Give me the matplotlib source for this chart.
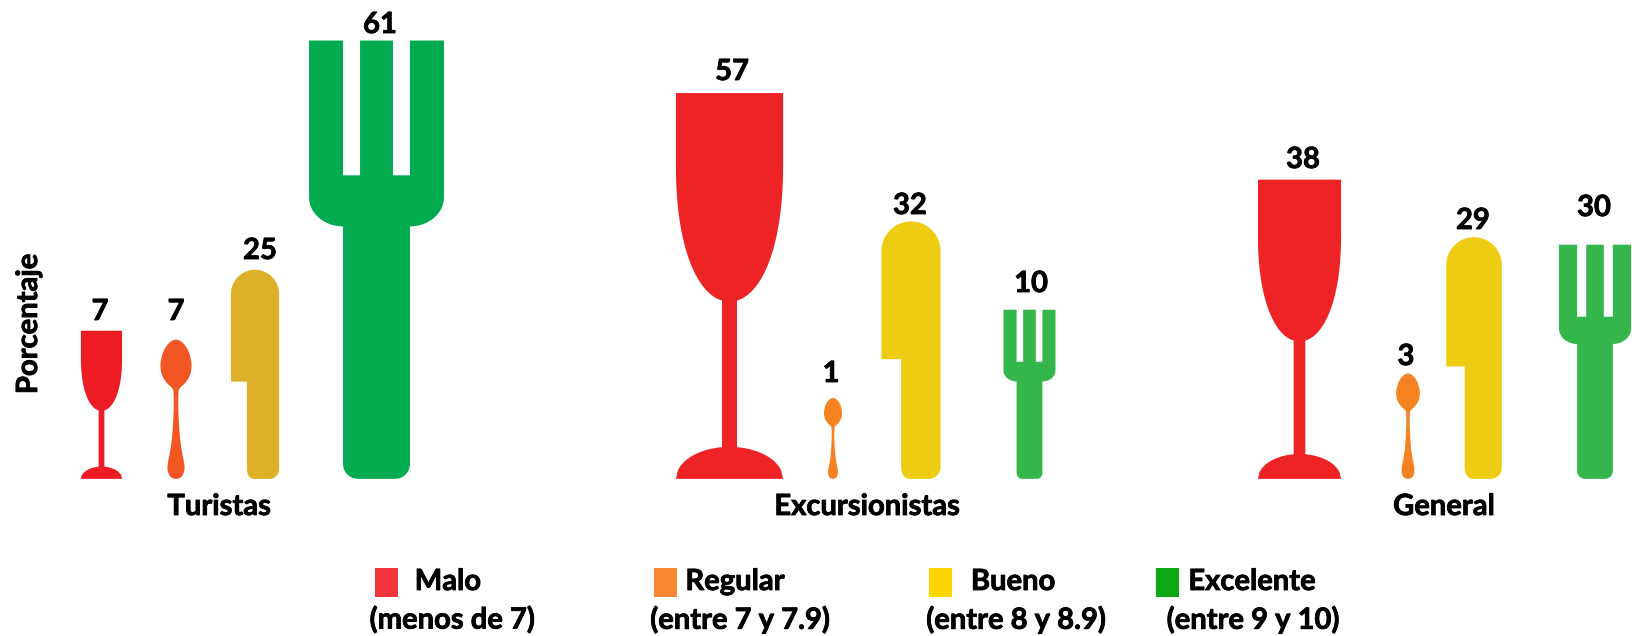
import numpy as np
import matplotlib
matplotlib.use("Agg")
import matplotlib.pyplot as plt
import matplotlib.patheffects as pe

# ---------- data ----------
groups = ["Turistas", "Excursionistas", "General"]
categories = ["Malo", "Regular", "Bueno", "Excelente"]
ranges = ["(menos de 7)", "(entre 7 y 7.9)", "(entre 8 y 8.9)", "(entre 9 y 10)"]
turistas = [7, 7, 25, 61]
excursionistas = [57, 1, 32, 10]
general = [38, 3, 29, 30]
series = [turistas, excursionistas, general]

# The reference's value axis is not linear: value -> icon height (pixels)
scale_values = [-157, 0, 1, 3, 7, 10, 25, 29, 30, 32, 38, 57, 61, 141]
scale_heights = [-157, 0, 86, 112, 148, 169, 199, 230, 234, 245, 299, 385.5, 438, 519]

# ---------- layout / style ----------
W, H = 1632, 636
BASE = 478.5
FONT = "Lato"
FS = 21
centers = [[101.5, 176, 255, 376.5], [729.5, 833, 911, 1029.5], [1299.5, 1408, 1474, 1595]]
label_pos = [[(100, 312), (176, 312), (260, 251), (380, 25)],
             [(732, 72), (831, 374), (910, 206), (1031, 284)],
             [(1303, 160), (1406, 357), (1473, 221), (1594, 208)]]
colors = [["#ED1C24", "#F15623", "#DDB027", "#02AA50"],
          ["#EE2326", "#F58220", "#EFCC14", "#35B64B"],
          ["#EE2326", "#F58220", "#EFCC14", "#35B64B"]]
group_pos = [(219, 507), (867, 507), (1444, 507)]
legend_colors = ["#F1353A", "#F88633", "#FFD400", "#0BA814"]
legend_box_x = [374.5, 654, 929, 1156]
legend_name_x = [448, 735, 1013, 1252]
legend_range_x = [452, 740, 1016, 1253]


def forward(v):
    v = np.asarray(v, dtype=float)
    return np.interp(v, scale_values, scale_heights)


def inverse(h):
    h = np.asarray(h, dtype=float)
    return np.interp(h, scale_heights, scale_values)


def arc(cu, ct, ru, rt, a0, a1, n=24):
    a = np.radians(np.linspace(a0, a1, n))
    return list(zip(cu + ru * np.cos(a), ct + rt * np.sin(a)))


def bezier(p0, p1, p2, p3, n=40):
    s = np.linspace(0, 1, n)[:, None]
    p0, p1, p2, p3 = map(np.array, (p0, p1, p2, p3))
    q = (1 - s) ** 3 * p0 + 3 * (1 - s) ** 2 * s * p1 + 3 * (1 - s) * s ** 2 * p2 + s ** 3 * p3
    return [tuple(r) for r in q]


def chaikin(pts, it=3):
    pts = np.array(pts, dtype=float)
    for _ in range(it):
        a, b = pts[:-1], pts[1:]
        pts = np.vstack([pts[:1], np.column_stack([0.75 * a + 0.25 * b, 0.25 * a + 0.75 * b]).reshape(-1, 2), pts[-1:]])
    return pts


def glass_shape():
    left = [(0.0, 0.0)]
    fu = np.linspace(0, 0.43, 24)
    left += [(u, 0.083 * np.sqrt(max(0, 1 - ((u - 0.5) / 0.5) ** 2))) for u in fu]
    left += [(0.43, 0.4623)]
    left += bezier((0.43, 0.4623), (0.2, 0.48), (0.0, 0.60), (0.0, 0.81))
    left += [(0.0, 1.0)]
    right = [(1 - u, t) for u, t in reversed(left)]
    return left + right


def spoon_shape():
    prof = [(0, 0), (0.004, 0.12), (0.025, 0.21), (0.06, 0.265), (0.10, 0.27), (0.2, 0.18), (0.3, 0.12), (0.4, 0.09),
            (0.5, 0.07), (0.62, 0.07), (0.65, 0.10), (0.69, 0.30), (0.74, 0.44), (0.806, 0.5),
            (0.88, 0.45), (0.93, 0.37), (0.97, 0.25), (0.995, 0.12), (1, 0)]
    p = chaikin(prof, 3)
    left = [(0.5 - w, t) for t, w in p]
    right = [(0.5 + w, t) for t, w in p[::-1]]
    return left + right


def knife_shape():
    rt = 0.115
    pts = arc(0.333 + 0.13, 0.046, 0.13, 0.046, 270, 180, 12)
    pts += [(0.333, 0.465), (0.0, 0.465), (0.0, 1 - rt)]
    pts += arc(0.5, 1 - rt, 0.5, rt, 180, 0, 40)
    pts += arc(1 - 0.2, 0.046, 0.2, 0.046, 0, -90, 12)
    return pts


def fork_shape():
    r, rt = 0.11, 0.034
    pts = arc(0.252 + r, rt, r, rt, 270, 180, 12)
    pts += arc(0.252, 0.642, 0.252, 0.066, 270, 180, 20)
    pts += [(0, 1), (0.252, 1), (0.252, 0.6925), (0.378, 0.6925), (0.378, 1), (0.622, 1),
            (0.622, 0.6925), (0.748, 0.6925), (0.748, 1), (1, 1)]
    pts += arc(0.748, 0.642, 0.252, 0.066, 0, -90, 20)
    pts += arc(0.748 - r, rt, r, rt, 0, -90, 12)
    return pts


# shape, width/height ratio, icon height relative to the value's height
icons = [(glass_shape(), 0.278, 1.0), (spoon_shape(), 0.23, 0.94),
         (knife_shape(), 0.23, 1.05), (fork_shape(), 0.308, 1.0)]

fig = plt.figure(figsize=(W / 100, H / 100), dpi=100, facecolor="white")
ax = fig.add_axes([0, 0, 1, 1])
ax.set_yscale("function", functions=(forward, inverse))
ax.set_xlim(0, W)
ax.set_ylim(inverse(BASE - H), inverse(BASE))
ax.axis("off")

lay = fig.add_axes([0, 0, 1, 1])
lay.set_xlim(0, W)
lay.set_ylim(H, 0)
lay.axis("off")
lay.patch.set_alpha(0)

txt = dict(family=FONT, fontweight="bold", fontsize=FS, color="black", ha="center", va="center",
           path_effects=[pe.withStroke(linewidth=0.6, foreground="black")])

for g, vals in enumerate(series):
    for i, v in enumerate(vals):
        shape, aspect, frac = icons[i]
        h = float(forward(v)) * frac
        w = aspect * h
        arr = np.array(shape)
        xs = centers[g][i] + (arr[:, 0] - 0.5) * w
        ys = inverse(arr[:, 1] * h)
        ax.fill(xs, ys, color=colors[g][i], linewidth=0)
        lx, ly = label_pos[g][i]
        lay.text(lx, ly, str(v), **txt)
    lay.text(group_pos[g][0], group_pos[g][1], groups[g], **txt)

lay.text(29, 324, "Porcentaje", rotation=90, **txt)

for i, name in enumerate(categories):
    lay.add_patch(plt.Rectangle((legend_box_x[i], 568), 23, 29, color=legend_colors[i], linewidth=0))
    lay.text(legend_name_x[i], 582, name, **txt)
    lay.text(legend_range_x[i], 620, ranges[i], **txt)

fig.savefig("out.png", dpi=100, facecolor="white")
